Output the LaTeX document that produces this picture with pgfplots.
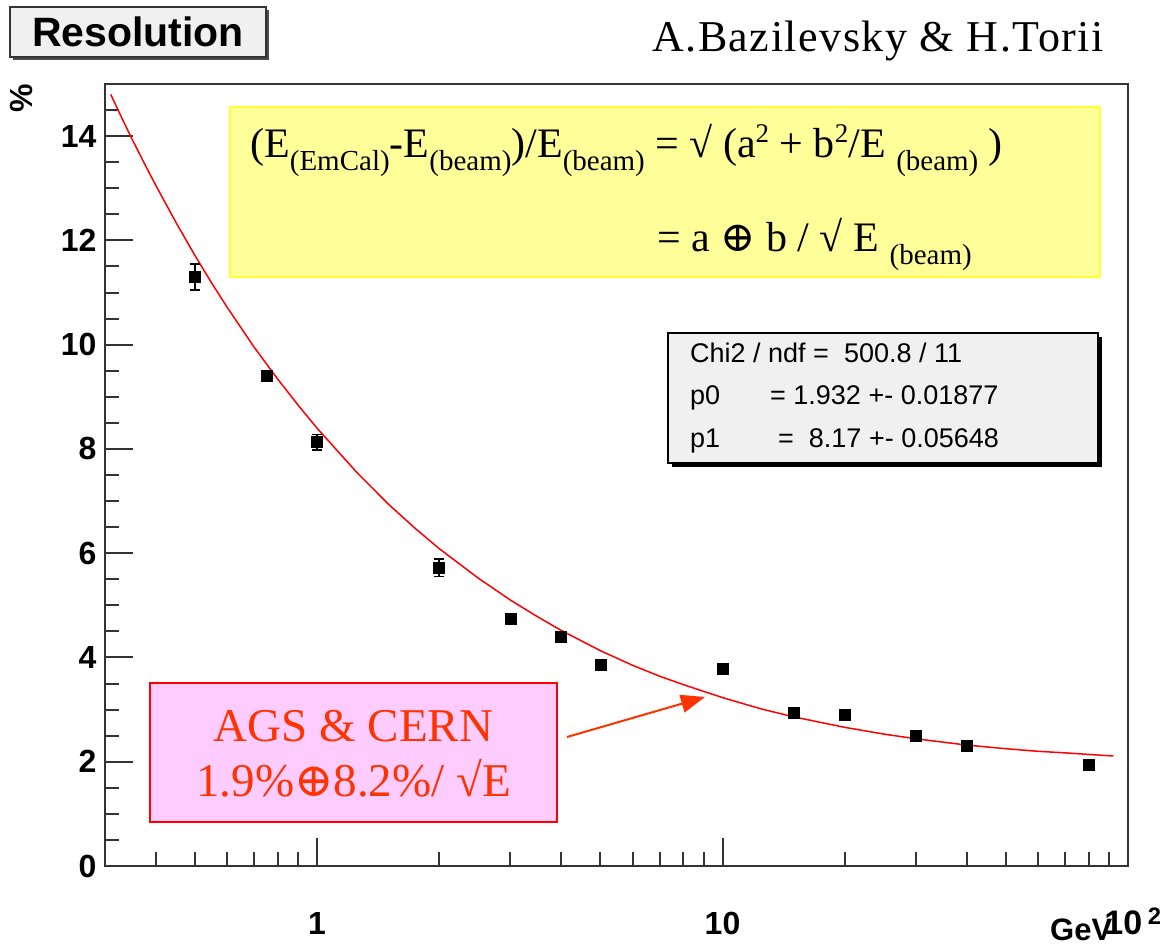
\documentclass[border=0pt]{standalone}
\usepackage{fontspec}
\setmainfont{Liberation Serif}
\setsansfont{Liberation Sans}
\newfontfamily\dejavuserif{DejaVu Serif}
\newfontfamily\authorfont[LetterSpace=3.5]{Liberation Serif}
\usepackage{pgfplots}
\pgfplotsset{compat=1.18}
\usetikzlibrary{arrows.meta}
\definecolor{axgray}{HTML}{333333}
\definecolor{boxgray}{HTML}{F0F0F0}
\definecolor{yellowfill}{HTML}{FFFF99}
\definecolor{yellowline}{HTML}{FFFF33}
\definecolor{pinkfill}{HTML}{FFCCFF}
\definecolor{orangered}{HTML}{FF3300}
\newcommand\sub[1]{\raisebox{-13pt}{\fontsize{29}{29}\selectfont #1}}
\newcommand\sups[1]{\raisebox{15pt}{\fontsize{27}{27}\selectfont #1}}
\begin{document}
\begin{tikzpicture}
\useasboundingbox (0pt,0pt) rectangle (1167pt,948pt);
\begin{axis}[
  at={(105pt,82pt)}, anchor=south west,
  scale only axis, width=1023pt, height=782pt,
  xmode=log, xmin=0.3, xmax=100, ymin=0, ymax=15,
  xtick={1,10,100}, xticklabels={1,10,{\fontsize{34}{34}\selectfont\hspace*{10pt}10\,\textsuperscript{2}}},
  minor xtick={0.4,0.5,0.6,0.7,0.8,0.9,2,3,4,5,6,7,8,9,20,30,40,50,60,70,80,90},
  ytick={0,2,4,6,8,10,12,14},
  minor ytick={0.5,1,1.5,2.5,3,3.5,4.5,5,5.5,6.5,7,7.5,8.5,9,9.5,10.5,11,11.5,12.5,13,13.5,14.5},
  xtick pos=left, ytick pos=left,
  tick align=inside,
  major tick length=28pt, minor tick length=14pt,
  axis line style={draw=axgray, line width=2pt},
  every tick/.style={axgray, line width=2pt},
  ticklabel style={font=\fontsize{32}{32}\selectfont\sffamily\bfseries},
  /pgf/number format/assume math mode=true,
  xticklabel style={anchor=base, yshift=-68pt},
  yticklabel style={xshift=-5pt},
  clip=false,
]
\addplot[red, line width=1.5pt, no marks, sharp plot] coordinates {
(0.31,14.80) (0.33,14.35) (0.35,13.94) (0.375,13.48) (0.4,13.06) (0.45,12.33)
(0.5,11.71) (0.55,11.18) (0.6,10.72) (0.7,9.95) (0.8,9.34) (0.9,8.83) (1,8.40)
(1.25,7.56) (1.5,6.94) (1.75,6.47) (2,6.09) (2.5,5.52) (3,5.10) (3.5,4.78)
(4,4.52) (5,4.13) (6,3.85) (7,3.64) (8,3.48) (10,3.23) (12.5,3.01) (15,2.86)
(20,2.66) (25,2.53) (30,2.44) (40,2.32) (50,2.25) (60,2.20) (70,2.17) (80,2.14) (92,2.11)
};
\addplot[only marks, mark=square*, mark size=5.5pt, black,
  error bars/.cd, y dir=both, y explicit,
  error bar style={line width=1.5pt, black},
  error mark options={black, mark size=5pt, line width=1.5pt, rotate=90}]
coordinates {
(0.5,11.30) +- (0,0.25)
(0.75,9.40) +- (0,0.06)
(1,8.13) +- (0,0.15)
(2,5.72) +- (0,0.17)
(3,4.75) +- (0,0.01)
(4,4.39) +- (0,0.01)
(5,3.87) +- (0,0.01)
(10,3.78) +- (0,0.01)
(15,2.95) +- (0,0.01)
(20,2.90) +- (0,0.01)
(30,2.49) +- (0,0.01)
(40,2.30) +- (0,0.01)
(80,1.94) +- (0,0.01)
};
\end{axis}
\begin{scope}[x=1pt,y=1pt]
% Title box
\fill[black!70] (13,888) rectangle (269,938);
\filldraw[fill=boxgray, draw=axgray, line width=1.5pt] (10,891) rectangle (266,941);
\node[anchor=base, inner sep=0, font=\fontsize{41}{41}\selectfont\sffamily\bfseries] at (138,901) {Resolution};
% author
\node[anchor=base west, inner sep=0, font=\authorfont\fontsize{44}{44}\selectfont] at (652,896) {A.Bazilevsky \& H.Torii};
% y label
\node[rotate=90, inner sep=0, font=\fontsize{32}{32}\selectfont\sffamily\bfseries] at (21.5,850) {\%};
% x label
\node[anchor=base west, inner sep=0, font=\fontsize{31}{31}\selectfont\sffamily\bfseries] at (1050,8) {GeV};
% yellow formula box
\filldraw[fill=yellowfill, draw=yellowline, line width=2pt] (230,671) rectangle (1100,841);
\node[anchor=base west, inner sep=0, font=\fontsize{42}{42}\selectfont] at (250,790)
  {(E\sub{(EmCal)}-E\sub{(beam)})/E\sub{(beam)} = √ (a\sups{2} + b\sups{2}/E \sub{(beam)} )};
\node[anchor=base west, inner sep=0, font=\fontsize{42}{42}\selectfont] at (657,696)
  {= a {\dejavuserif ⊕} b / √ E \sub{(beam)}};
% stats box
\fill[black] (672,481) rectangle (1102,611);
\filldraw[fill=boxgray, draw=black, line width=1.5pt] (668,485) rectangle (1098,615);
\begin{scope}[every node/.style={anchor=base west, inner sep=0, font=\fontsize{27}{27}\selectfont\sffamily}]
\node at (690,585) {Chi2 / ndf =\ \ 500.8 / 11};
\node at (690,543) {p0};
\node at (770,543) {= 1.932 +- 0.01877};
\node at (690,500) {p1};
\node at (778,500) {=\ \ 8.17 +- 0.05648};
\end{scope}
% pink box
\filldraw[fill=pinkfill, draw=red, line width=2pt] (150,126) rectangle (557,265);
\node[anchor=base, inner sep=0, text=orangered, font=\fontsize{47}{47}\selectfont] at (353.5,206) {AGS \& CERN};
\node[anchor=base, inner sep=0, text=orangered, font=\fontsize{47}{47}\selectfont] at (353.5,151) {1.9\%{\dejavuserif ⊕}8.2\%/ √E};
% arrow
\draw[orangered, line width=2pt, -{Triangle[length=24pt,width=18pt]}] (567,211) -- (705,251);
\end{scope}
\end{tikzpicture}
\end{document}
